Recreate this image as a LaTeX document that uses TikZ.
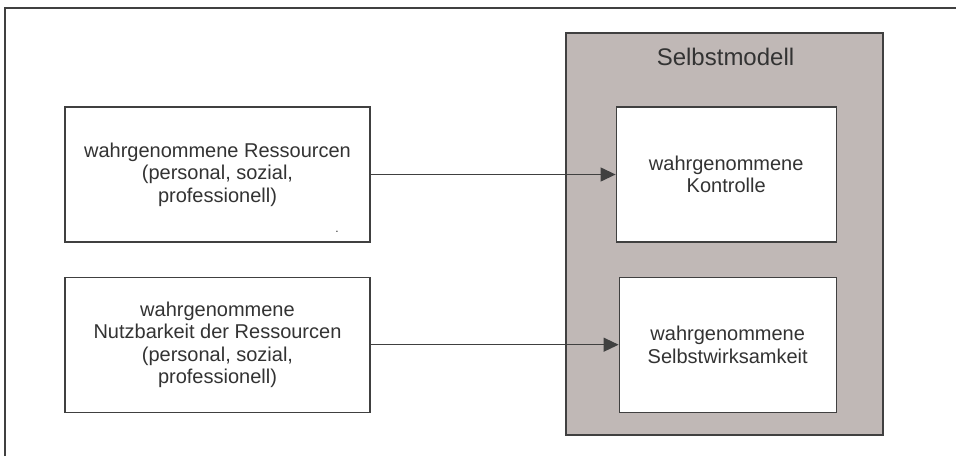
\documentclass[tikz,border=0pt]{standalone}
\usepackage{fontspec}
\setmainfont{Liberation Sans}
\usetikzlibrary{arrows.meta,positioning}

\definecolor{linegray}{RGB}{64,64,64}
\definecolor{modellfill}{RGB}{192,184,182}
\definecolor{textgray}{RGB}{51,51,51}

\tikzset{
  box/.style={draw=linegray,line width=1.2pt,fill=white,align=center,text=textgray,
    font=\fontsize{20}{22.5}\selectfont,minimum height=135pt,inner sep=0pt},
}

\begin{document}
\begin{tikzpicture}[x=1pt,y=-1pt,>={Triangle[length=15pt,width=14pt]},node distance=34pt and 245pt]

                \useasboundingbox (0,0) rectangle (956,456);
                \draw[linegray,line width=2pt] (5,456) -- (5,7.5) -- (956,7.5);

                % Selbstmodell im Hintergrund
                \node[draw=linegray,line width=1.2pt,fill=modellfill,minimum width=317pt,minimum height=402pt] (modell) at (724.5,234) {};
                \node[font=\fontsize{24}{27}\selectfont,text=textgray] (titel) at (725.5,57) {Selbstmodell};

                \node[box,minimum width=305pt] (res) at (217.5,174.5) {wahrgenommene Ressourcen\\(personal, sozial,\\professionell)};

                \node[box,minimum width=305pt] (nutz) [below=of res] {wahrgenommene\\Nutzbarkeit der Ressourcen\\(personal, sozial,\\professionell)};

                \node[box,minimum width=220pt] (kon) [right=of res] {wahrgenommene\\Kontrolle};

                \node[box,minimum width=217pt] (wirk) [below=of kon,xshift=1.5pt] {wahrgenommene\\Selbstwirksamkeit};

                \node[font=\fontsize{12}{12}\selectfont,text=textgray,inner sep=0pt] (punkt) at (337,232) {.};

                \path[->,linegray,line width=1.2pt] (res) edge (kon)
                          (nutz) edge (wirk);

            \end{tikzpicture}
\end{document}
